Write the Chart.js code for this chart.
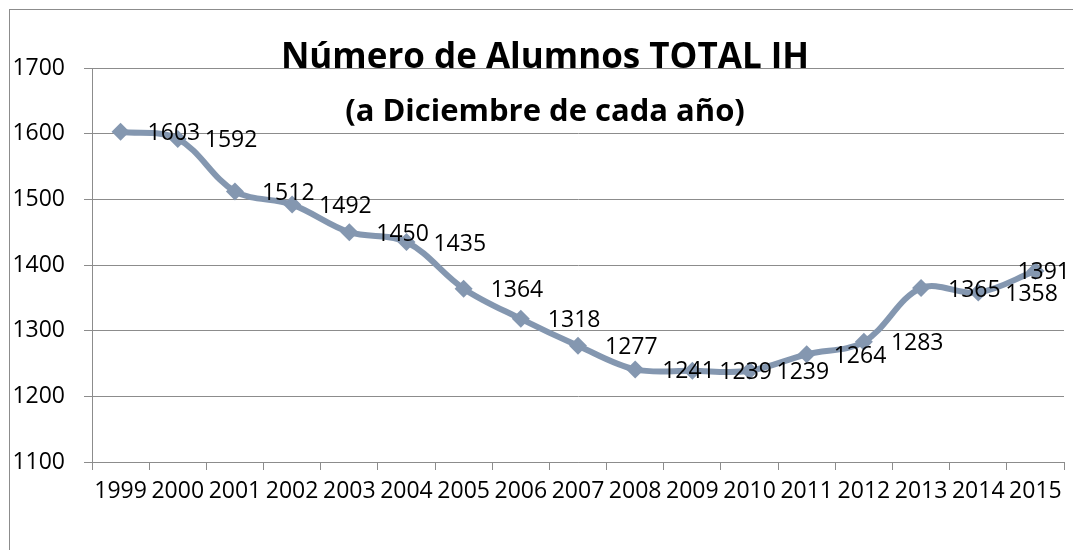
<!DOCTYPE html>
<html>
<head>
<meta charset="utf-8">
<script src="https://cdn.jsdelivr.net/npm/chart.js@4.4.1/dist/chart.umd.min.js"></script>
<style>
  html, body { margin: 0; padding: 0; background: #fff; }
  #wrap { width: 1073px; height: 550px; position: relative; }
</style>
</head>
<body>
<div id="wrap"><canvas id="mycanvas"></canvas></div>
<script>
// data
var years = ['1999','2000','2001','2002','2003','2004','2005','2006','2007','2008','2009','2010','2011','2012','2013','2014','2015'];
var alumnos = [1603, 1592, 1512, 1492, 1450, 1435, 1364, 1318, 1277, 1241, 1239, 1239, 1264, 1283, 1365, 1358, 1391];
var titulo = 'Número de Alumnos TOTAL IH';
var subtitulo = '(a Diciembre de cada año)';

var gris = '#8c8c8c';
var azul = '#8497b0';
var fuente = '"Open Sans", sans-serif';

// frame + title drawn over the plot like in excel
var extras = {
	id: 'extras',
	beforeDraw: function(chart) {
		var c = chart.ctx;
		c.save();
		c.fillStyle = '#fff';
		c.fillRect(0, 0, chart.width, chart.height);
		c.strokeStyle = gris;
		c.lineWidth = 1;
		c.strokeRect(9.5, 9.5, 1100, 600);
		c.restore();
	},
	afterDatasetsDraw: function(chart) {
		var c = chart.ctx;
		var meta = chart.getDatasetMeta(0);
		c.save();
		c.font = '23px ' + fuente;
		c.fillStyle = '#000';
		c.textAlign = 'left';
		c.textBaseline = 'middle';
		meta.data.forEach(function(pt, i) {
			var txt = String(alumnos[i]);
			var w = c.measureText(txt).width;
			var x = pt.x + 27;
			if (x + w > chart.width - 3) x = chart.width - 3 - w;
			c.fillText(txt, x, pt.y + 2);
		});
		c.restore();
	},
	afterDraw: function(chart) {
		var c = chart.ctx;
		c.save();
		c.fillStyle = '#000';
		c.textAlign = 'center';
		c.textBaseline = 'alphabetic';
		c.font = 'bold 35px ' + fuente;
		c.fillText(titulo, 545, 68);
		c.font = 'bold 31px ' + fuente;
		c.fillText(subtitulo, 545, 121);
		c.restore();
	}
};

var chartdata = {
	labels: years,
	datasets: [
		{
			label: 'Alumnos',
			data: alumnos,
			borderColor: azul,
			backgroundColor: azul,
			borderWidth: 6,
			tension: 0.35,
			pointStyle: 'rectRot',
			pointRadius: 9,
			pointBorderWidth: 0,
			pointBackgroundColor: azul
		}
	]
};

var ctx = document.getElementById('mycanvas');
var lineGraph = new Chart(ctx, {
	type: 'line',
	data: chartdata,
	plugins: [extras],
	options: {
		responsive: true,
		maintainAspectRatio: false,
		animation: false,
		layout: { padding: { left: 0, right: 4, top: 68, bottom: 0 } },
		plugins: {
			legend: { display: false },
			title: { display: false },
			tooltip: { enabled: false }
		},
		scales: {
			x: {
				offset: true,
				grid: {
					offset: true,
					drawOnChartArea: false,
					drawTicks: true,
					tickLength: 8,
					color: gris
				},
				border: { color: gris, width: 1 },
				ticks: {
					color: '#000',
					font: { family: fuente, size: 23 },
					padding: 8,
					maxRotation: 0,
					autoSkip: false
				},
				afterFit: function(s) { s.height = 88; }
			},
			y: {
				min: 1100,
				max: 1700,
				grid: {
					color: gris,
					tickLength: 8
				},
				border: { color: gris, width: 1 },
				ticks: {
					stepSize: 100,
					color: '#000',
					font: { family: fuente, size: 23 },
					padding: 19,
					callback: function(v) { return String(v); }
				},
				afterFit: function(s) { s.width = 92; }
			}
		}
	}
});
</script>
</body>
</html>
